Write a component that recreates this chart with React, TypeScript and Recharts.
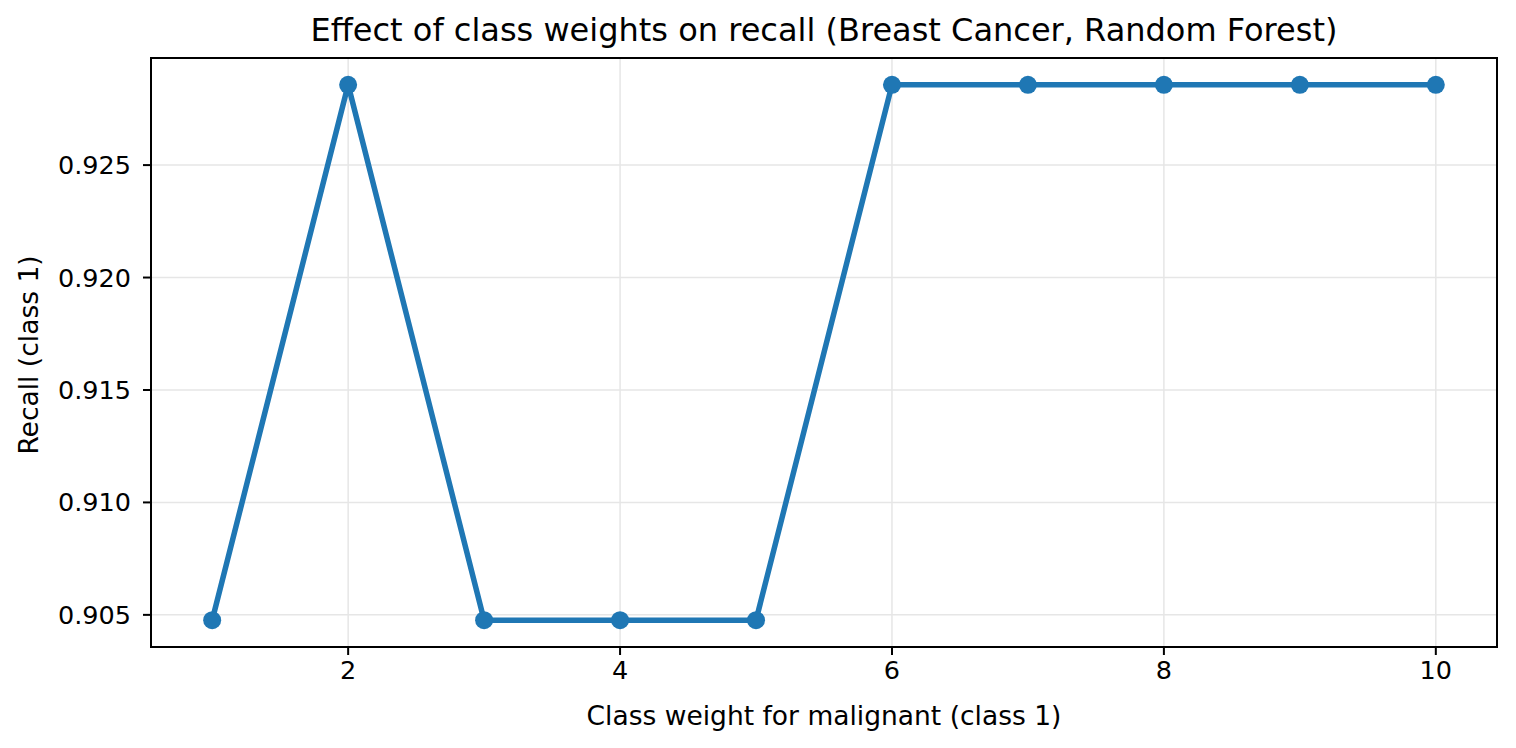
import { LineChart, Line, XAxis, YAxis, CartesianGrid, ReferenceArea } from "recharts";

const classWeights = [1, 2, 3, 4, 5, 6, 7, 8, 9, 10];
const recallValues = [
  0.904762, 0.928571, 0.904762, 0.904762, 0.904762, 0.928571, 0.928571, 0.928571, 0.928571, 0.928571,
];
const xTicks = [2, 4, 6, 8, 10];
const yTicks = [0.905, 0.91, 0.915, 0.92, 0.925];
const xDomain = [0.55, 10.45];
const yDomain = [0.903571, 0.929762];

const data = classWeights.map((w, i) => ({ weight: w, recall: recallValues[i] }));

const FONT = "'DejaVu Sans', sans-serif";
const BLUE = "#1f77b4";

export default function App() {
  return (
    <div style={{ position: "fixed", left: 0, top: 0, width: 1516, height: 748, background: "#fff", fontFamily: FONT }}>
      <div style={{ position: "absolute", left: 151, width: 1346, top: 11, textAlign: "center", fontSize: 32, lineHeight: "normal", color: "#000", whiteSpace: "nowrap" }}>
        Effect of class weights on recall (Breast Cancer, Random Forest)
      </div>
      <div style={{ position: "absolute", left: 151, width: 1346, top: 700, textAlign: "center", fontSize: 26.5, color: "#000", whiteSpace: "nowrap" }}>
        Class weight for malignant (class 1)
      </div>
      <div
        style={{
          position: "absolute",
          left: 28,
          top: 355,
          transform: "translate(-50%, -50%) rotate(-90deg)",
          whiteSpace: "nowrap",
          fontSize: 26.5,
          color: "#000",
        }}
      >
        Recall (class 1)
      </div>
      <LineChart width={1516} height={748} data={data} margin={{ top: 58, right: 19, left: 71, bottom: 41 }}>
        <CartesianGrid stroke="#e6e6e6" strokeWidth={1.5} />
        <XAxis
          dataKey="weight"
          type="number"
          domain={xDomain}
          ticks={xTicks}
          height={60}
          stroke="#000"
          strokeWidth={2}
          tickSize={8}
          tickMargin={6}
          tick={{ fill: "#000", fontSize: 25.5, fontFamily: FONT }}
          allowDataOverflow
        />
        <YAxis
          type="number"
          domain={yDomain}
          ticks={yTicks}
          width={80}
          stroke="#000"
          strokeWidth={2}
          tickSize={8}
          tickMargin={12}
          tickFormatter={(v: number) => v.toFixed(3)}
          tick={{ fill: "#000", fontSize: 25.5, fontFamily: FONT }}
          allowDataOverflow
        />
        <ReferenceArea
          x1={xDomain[0]}
          x2={xDomain[1]}
          y1={yDomain[0]}
          y2={yDomain[1]}
          fill="none"
          fillOpacity={0}
          stroke="#000"
          strokeWidth={2}
        />
        <Line
          type="linear"
          dataKey="recall"
          stroke={BLUE}
          strokeWidth={5.5}
          dot={{ r: 9, fill: BLUE, stroke: BLUE, strokeWidth: 0 }}
          isAnimationActive={false}
        />
      </LineChart>
    </div>
  );
}
